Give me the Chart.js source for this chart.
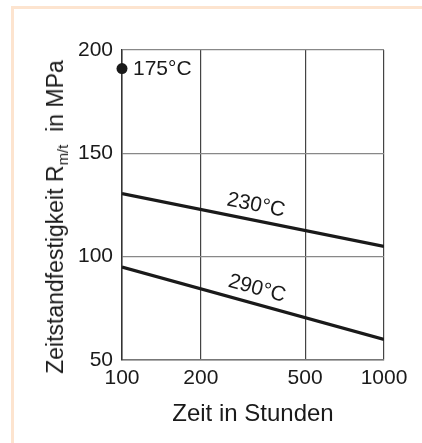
<!DOCTYPE html>
<html lang="de">
<head>
    <meta charset="UTF-8">
    <title>Zeitstandfestigkeit</title>
    <script src="https://cdn.jsdelivr.net/npm/chart.js"></script>
    <style>
        body {
            margin: 0;
            background: #ffffff;
            overflow: hidden;
        }
        #wrap {
            position: relative;
            width: 422px;
            height: 443px;
            overflow: hidden;
        }
        #frame {
            position: absolute;
            left: 11px;
            top: 6px;
            width: 600px;
            height: 600px;
            border: 3px solid #fde4cf;
        }
        canvas {
            position: absolute;
            left: 0;
            top: 0;
        }
        #ytitle {
            position: absolute;
            left: 57px;
            top: 217px;
            transform: translate(-50%, -50%) rotate(-90deg);
            white-space: nowrap;
            font-family: "Liberation Sans", Arial, sans-serif;
            font-size: 23px;
            line-height: 1;
            color: #1a1a1a;
        }
        #ytitle sub {
            font-size: 15px;
            vertical-align: -5px;
        }
    </style>
</head>
<body>
    <div id="wrap">
        <div id="frame"></div>
        <canvas id="chart" width="422" height="443"></canvas>
        <div id="ytitle">Zeitstandfestigkeit R<sub>m/t</sub>&nbsp; in MPa</div>
    </div>

    <script>
        // values
        const hours = [100, 1000];
        const r230 = [130.5, 105];
        const r290 = [95, 60];
        const hours175 = [100];
        const r175 = [191];
        const xTicks = [100, 200, 500, 1000];
        const tempLabels = ['175°C', '230°C', '290°C'];

        const FONT = '"Liberation Sans", Arial, sans-serif';
        const INK = '#1a1a1a';

        const pts = (xs, ys) => xs.map((x, i) => ({ x: x, y: ys[i] }));

        // temperature labels: one beside the point, two along the lines
        const textPlugin = {
            id: 'texts',
            afterDatasetsDraw(chart) {
                const c = chart.ctx;
                c.save();
                c.fillStyle = INK;
                c.font = '21px ' + FONT;

                const p = chart.getDatasetMeta(2).data[0];
                c.textAlign = 'left';
                c.textBaseline = 'middle';
                c.fillText(tempLabels[0], p.x + 11, p.y + 1);

                [0, 1].forEach((di, k) => {
                    const d = chart.getDatasetMeta(di).data;
                    const a = d[0], b = d[d.length - 1];
                    const ang = Math.atan2(b.y - a.y, b.x - a.x);
                    const mx = (a.x + b.x) / 2, my = (a.y + b.y) / 2;
                    const off = 15;
                    c.save();
                    c.translate(mx + Math.sin(ang) * off, my - Math.cos(ang) * off);
                    c.rotate(ang);
                    c.textAlign = 'center';
                    c.textBaseline = 'middle';
                    c.fillText(tempLabels[k + 1], 0, 0);
                    c.restore();
                });
                c.restore();
            }
        };

        new Chart(document.getElementById('chart'), {
            type: 'line',
            data: {
                datasets: [
                    {
                        label: tempLabels[1],
                        data: pts(hours, r230),
                        borderColor: INK,
                        borderWidth: 3.2,
                        pointRadius: 0
                    },
                    {
                        label: tempLabels[2],
                        data: pts(hours, r290),
                        borderColor: INK,
                        borderWidth: 3.2,
                        pointRadius: 0
                    },
                    {
                        label: tempLabels[0],
                        data: pts(hours175, r175),
                        showLine: false,
                        pointRadius: 5.5,
                        pointBackgroundColor: INK,
                        pointBorderWidth: 0,
                        clip: false
                    }
                ]
            },
            options: {
                responsive: false,
                animation: false,
                layout: { padding: { left: 0, right: 38, top: 50, bottom: 0 } },
                plugins: {
                    legend: { display: false },
                    tooltip: { enabled: false }
                },
                scales: {
                    x: {
                        type: 'logarithmic',
                        min: 100,
                        max: 1000,
                        afterBuildTicks: s => { s.ticks = xTicks.map(v => ({ value: v })); },
                        afterFit: s => { s.height = 83; },
                        grid: { color: '#444', lineWidth: 1.2, drawTicks: false },
                        border: { color: '#777', width: 1.5 },
                        ticks: {
                            autoSkip: false,
                            maxRotation: 0,
                            padding: 6,
                            color: INK,
                            font: { family: FONT, size: 21 },
                            callback: v => String(v)
                        },
                        title: {
                            display: true,
                            text: 'Zeit in Stunden',
                            color: INK,
                            font: { family: FONT, size: 24 },
                            padding: { top: 0, bottom: 14 }
                        }
                    },
                    y: {
                        min: 50,
                        max: 200,
                        afterFit: s => { s.width = 122; },
                        grid: { color: '#888', lineWidth: 1.2, drawTicks: false },
                        border: { color: '#333', width: 1.5 },
                        ticks: {
                            stepSize: 50,
                            padding: 9,
                            color: INK,
                            font: { family: FONT, size: 21 }
                        }
                    }
                }
            },
            plugins: [textPlugin]
        });
    </script>
</body>
</html>
